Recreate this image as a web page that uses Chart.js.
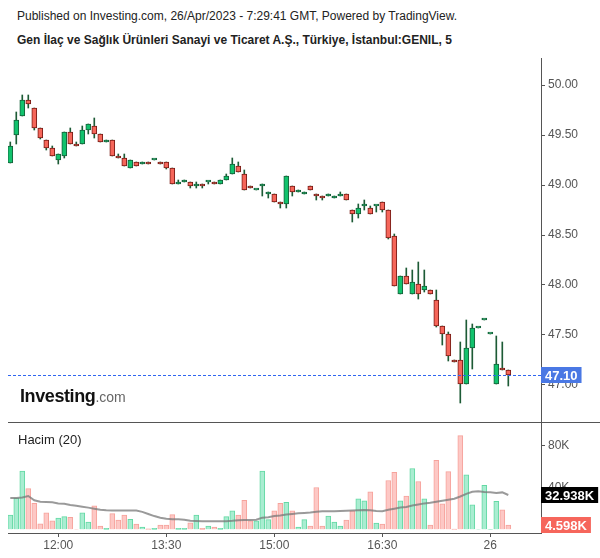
<!DOCTYPE html>
<html>
<head>
<meta charset="utf-8">
<script src="https://cdn.jsdelivr.net/npm/chart.js@4.4.0/dist/chart.umd.min.js"></script>
<style>
  body { margin: 0; background: #fff; font-family: "Liberation Sans", Arial, sans-serif; }
  #wrap { position: relative; width: 600px; height: 558px; overflow: hidden; }
  .txt { position: absolute; white-space: nowrap; color: #222; }
  .box { position: absolute; }
</style>
</head>
<body>
<div id="wrap">
  <div class="txt" style="left:17px;top:9px;font-size:12px;">Published on Investing.com, 26/Apr/2023 - 7:29:41 GMT, Powered by TradingView.</div>
  <div class="txt" style="left:17px;top:33px;font-size:12px;font-weight:bold;">Gen İlaç ve Sağlık Ürünleri Sanayi ve Ticaret A.Ş., Türkiye, İstanbul:GENIL, 5</div>
  <div class="box" style="left:0;top:58px;width:600px;height:365px;"><canvas id="price"></canvas></div>
  <div class="txt" style="left:20px;top:386px;font-size:18px;font-weight:bold;color:#111;letter-spacing:-0.4px;">Investing<span style="font-size:14px;font-weight:normal;color:#666;letter-spacing:0;">.com</span></div>
  <div class="box" style="left:8px;top:422px;width:592px;height:1px;background:#555;"></div>
  <div class="box" style="left:0;top:423px;width:600px;height:135px;"><canvas id="vol"></canvas></div>
  <div class="txt" style="left:18px;top:432px;font-size:13px;">Hacim (20)</div>
</div>
<script>
'use strict';
// свечи по 5 минут, с 11:20 25 апреля до 10:15 26 апреля
const opens  = [49.22,49.50,49.69,49.85,49.77,49.57,49.45,49.37,49.25,49.29,49.53,49.41,49.41,49.55,49.59,49.51,49.43,49.45,49.29,49.27,
                49.17,49.23,49.21,49.23,49.25,49.23,49.23,49.17,49.01,49.03,49.03,48.99,49.01,49.03,49.03,49.01,49.05,49.11,49.19,49.11,
                48.99,48.95,48.99,48.91,48.91,48.83,48.81,48.99,48.93,48.91,48.99,48.91,48.89,48.89,48.87,48.89,48.91,48.75,48.71,48.79,
                48.77,48.79,48.83,48.75,48.49,47.91,48.09,47.91,48.01,47.95,47.95,47.85,47.59,47.51,47.25,47.25,47.01,47.37,47.57,47.65,
                47.51,47.01,47.17,47.15];
const highs  = [49.43,49.73,49.90,49.90,49.77,49.57,49.45,49.39,49.31,49.53,49.57,49.43,49.59,49.61,49.67,49.51,49.45,49.45,49.31,49.31,
                49.25,49.23,49.23,49.23,49.25,49.23,49.23,49.17,49.05,49.05,49.03,49.03,49.01,49.03,49.03,49.05,49.11,49.27,49.23,49.15,
                48.99,48.95,49.01,48.93,48.91,48.83,49.09,48.99,48.95,48.93,48.99,48.91,48.89,48.91,48.89,48.93,48.91,48.75,48.81,48.85,
                48.79,48.79,48.83,48.75,48.51,48.09,48.17,48.15,48.23,48.15,47.95,47.95,47.59,47.53,47.25,47.43,47.65,47.61,47.57,47.65,
                47.51,47.49,47.43,47.15];
const lows   = [49.22,49.41,49.69,49.77,49.55,49.46,49.35,49.29,49.21,49.27,49.41,49.39,49.41,49.51,49.47,49.43,49.43,49.29,49.27,49.19,
                49.17,49.19,49.21,49.21,49.25,49.21,49.16,49.01,49.01,49.03,48.97,48.97,48.97,49.01,49.01,49.01,49.05,49.11,49.13,48.95,
                48.97,48.95,48.89,48.87,48.83,48.77,48.77,48.89,48.93,48.91,48.95,48.85,48.85,48.89,48.87,48.89,48.85,48.63,48.67,48.75,
                48.71,48.73,48.73,48.46,47.99,47.91,48.01,47.91,47.86,47.93,47.91,47.58,47.40,47.24,47.23,46.82,47.01,47.16,47.57,47.65,
                47.51,47.01,47.15,46.99];
const closes = [49.39,49.65,49.85,49.81,49.57,49.47,49.37,49.29,49.31,49.53,49.41,49.39,49.55,49.61,49.51,49.43,49.45,49.29,49.27,49.19,
                49.25,49.19,49.23,49.21,49.25,49.21,49.17,49.01,49.03,49.05,48.99,49.01,48.99,49.03,49.01,49.05,49.09,49.21,49.13,48.95,
                48.97,48.95,49.01,48.91,48.83,48.81,49.09,48.93,48.95,48.93,48.95,48.89,48.87,48.91,48.87,48.89,48.85,48.71,48.77,48.81,
                48.71,48.79,48.75,48.47,47.99,48.09,48.01,48.03,47.91,47.99,47.91,47.59,47.51,47.29,47.23,47.01,47.37,47.57,47.57,47.65,
                47.51,47.21,47.15,47.10];
// объём, тыс.
const volumes = [14,30,55.5,39,25,5.7,16,8.6,11,12.5,11.8,0.5,16,7.4,22.7,3.5,1.5,15.3,9.3,14,
                 10,5.5,2.6,1,1.5,4.5,4.5,14.4,1.5,1.5,6.7,14,1.5,3.5,2.6,1.5,12.5,18,14,28,
                 8.6,8.6,55.5,9.6,18,25,26,18,2.6,9.6,3.5,40,3.5,13,7.4,3.5,9.3,18,29.4,27.5,
                 36,6.4,5.5,46.6,54.3,27.5,32,58,45.7,29.4,4.5,65.8,24.6,55,0.8,89,52,23.6,0.5,42,
                 0.3,27,18.9,4.598];
// скользящая средняя объёма (20), тыс.
const volMA = [30,30,30.5,32,28,26.5,26.2,26,25,24.6,23.5,22.7,21.8,21,20,19,18.5,18.2,18.2,18.2,
               18.2,18.2,17,15,13,11.5,10.5,9.9,9.9,9.5,8.6,8.3,8,8,8,8,8.2,8.5,9,9.2,
               9.2,9.5,11.5,12,13,13.5,14.4,15,15.6,16,16.3,17,17.5,17.6,17.6,17.8,18,18.2,18.5,18.8,
               18.5,17.8,17.5,19,20,21,21.5,23,24,25,25.5,26.5,27.5,28.5,29.4,31.5,34,36,36.4,35.7,
               35.5,34.8,35.4,32.938];
const lastPrice = 47.10;
const priceTicks = [47, 47.5, 48, 48.5, 49, 49.5, 50];
const volTicks = [0, 40, 80];
const tickIndex = [8, 26, 44, 62, 80];
const tickLabels = ['12:00', '13:30', '15:00', '16:30', '26'];

const up = opens.map((o, i) => closes[i] >= o);
const FONT = { family: '"Liberation Sans", Arial, sans-serif', size: 12 };
const AXIS = '#555';
const xMin = -0.38, xMax = 88.45;

function tag(ctx, x, y, text, bg) {
  ctx.save();
  ctx.font = 'bold 13px "Liberation Sans", Arial, sans-serif';
  const w = ctx.measureText(text).width + 8;
  ctx.fillStyle = bg;
  ctx.fillRect(x, Math.round(y) - 8, w, 16);
  ctx.fillStyle = '#fff';
  ctx.textBaseline = 'middle';
  ctx.fillText(text, x + 4, Math.round(y) + 1);
  ctx.restore();
}

const pricePlugin = {
  id: 'priceExtras',
  afterDatasetsDraw(chart) {
    const { ctx, chartArea } = chart;
    const y = Math.round(chart.scales.y.getPixelForValue(lastPrice)) + 0.5;
    ctx.save();
    ctx.strokeStyle = '#2f66f0';
    ctx.lineWidth = 1;
    ctx.setLineDash([3, 2]);
    ctx.beginPath();
    ctx.moveTo(chartArea.left, y);
    ctx.lineTo(chartArea.right, y);
    ctx.stroke();
    ctx.restore();
  },
  afterDraw(chart) {
    const y = chart.scales.y.getPixelForValue(lastPrice);
    tag(chart.ctx, chart.chartArea.right, y, lastPrice.toFixed(2), '#4a78e4');
  }
};

new Chart(document.getElementById('price'), {
  type: 'bar',
  data: {
    datasets: [{
      data: lows.map((l, i) => ({ x: i, y: [l, highs[i]] })),
      backgroundColor: '#1d5b36',
      borderWidth: 0,
      barThickness: 1,
      grouped: false,
      order: 2
    }, {
      data: opens.map((o, i) => ({ x: i, y: [o, closes[i]] })),
      backgroundColor: up.map(u => u ? '#12c26d' : '#f5665a'),
      borderColor: up.map(u => u ? '#16613a' : '#7a1d16'),
      borderWidth: 1,
      borderSkipped: false,
      barThickness: 5,
      minBarLength: 2,
      grouped: false,
      order: 1
    }]
  },
  options: {
    responsive: true,
    maintainAspectRatio: false,
    animation: false,
    layout: { padding: { left: 8 } },
    plugins: { legend: { display: false }, tooltip: { enabled: false } },
    scales: {
      x: { type: 'linear', min: xMin, max: xMax, offset: false, display: false },
      y: {
        position: 'right',
        min: 46.62,
        max: 50.27,
        afterBuildTicks: s => { s.ticks = priceTicks.map(v => ({ value: v })); },
        afterFit: s => { s.width = 59; s.paddingTop = 0; s.paddingBottom = 0; },
        ticks: { color: AXIS, font: FONT, padding: 3, callback: v => v.toFixed(2) },
        grid: { drawOnChartArea: false, tickLength: 4, color: AXIS },
        border: { display: true, color: AXIS }
      }
    }
  },
  plugins: [pricePlugin]
});

const volPlugin = {
  id: 'volExtras',
  afterDraw(chart) {
    const s = chart.scales.y, x = chart.chartArea.right;
    tag(chart.ctx, x, s.getPixelForValue(volMA[volMA.length - 1]), volMA[volMA.length - 1].toFixed(3) + 'K', '#000');
    tag(chart.ctx, x, s.getPixelForValue(volumes[volumes.length - 1]), volumes[volumes.length - 1].toFixed(3) + 'K', '#f6665c');
  }
};

new Chart(document.getElementById('vol'), {
  type: 'bar',
  data: {
    datasets: [{
      type: 'line',
      data: volMA.map((v, i) => ({ x: i, y: v })),
      borderColor: 'rgba(120,120,120,0.75)',
      borderWidth: 2,
      pointRadius: 0,
      tension: 0,
      order: 1
    }, {
      data: volumes.map((v, i) => ({ x: i, y: v })),
      backgroundColor: up.map(u => u ? '#a9edd1' : '#fdc8c5'),
      borderColor: up.map(u => u ? '#63d9a4' : '#f6a39c'),
      borderWidth: 1,
      barThickness: 5,
      grouped: false,
      order: 2
    }]
  },
  options: {
    responsive: true,
    maintainAspectRatio: false,
    animation: false,
    layout: { padding: { left: 8 } },
    plugins: { legend: { display: false }, tooltip: { enabled: false } },
    scales: {
      x: {
        type: 'linear',
        min: xMin,
        max: xMax,
        offset: false,
        afterBuildTicks: s => { s.ticks = tickIndex.map(v => ({ value: v })); },
        afterFit: s => { s.height = 25; s.paddingLeft = 0; s.paddingRight = 0; },
        ticks: { color: AXIS, font: FONT, padding: 1, maxRotation: 0, autoSkip: false,
                 callback: v => tickLabels[tickIndex.indexOf(v)] },
        grid: { drawOnChartArea: false, offset: false, tickLength: 4, color: AXIS },
        border: { display: true, color: AXIS }
      },
      y: {
        position: 'right',
        min: -3,
        max: 101,
        afterBuildTicks: s => { s.ticks = volTicks.map(v => ({ value: v })); },
        afterFit: s => { s.width = 59; s.paddingTop = 0; s.paddingBottom = 0; },
        ticks: { color: AXIS, font: FONT, padding: 3, callback: v => v ? v + 'K' : '' },
        grid: { drawOnChartArea: false, tickLength: 4, color: AXIS },
        border: { display: true, color: AXIS }
      }
    }
  },
  plugins: [volPlugin]
});
</script>
</body>
</html>
